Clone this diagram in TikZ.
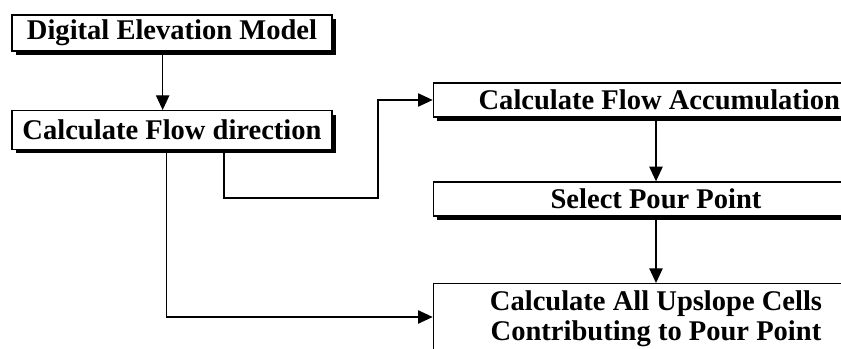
\documentclass[tikz,border=0pt]{standalone}
\usepackage{fontspec}
\setmainfont{Liberation Serif}
\usepackage{tikz}
\usetikzlibrary{arrows.meta,shadows}

\tikzset{
  stepbox/.style={draw, line width=1pt, fill=white, inner sep=0pt,
    font=\fontsize{21.4}{22.5}\selectfont\bfseries,
    drop shadow={shadow xshift=3pt, shadow yshift=-3pt, fill=black, opacity=1}},
  flow/.style={line width=1pt, -{Triangle[length=11pt,width=10pt]}}
}

\begin{document}
\begin{tikzpicture}[x=0.75pt,y=0.75pt,yscale=-1,xscale=1]
\useasboundingbox (0,0) rectangle (841,349);

%Shape: Rectangle [id:dem] 
\node [stepbox, minimum width=240pt, minimum height=27pt] (dem) at (172,33) {Digital Elevation Model};
%Shape: Rectangle [id:fdir] 
\node [stepbox, minimum width=240pt, minimum height=29pt] (fdir) at (172,130) {Calculate Flow direction};
%Shape: Rectangle [id:acc] 
\node [stepbox, minimum width=334pt, minimum height=25.5pt] (acc) at (656,100) {\hspace*{5pt}Calculate Flow Accumulation};
%Shape: Rectangle [id:pour] 
\node [stepbox, minimum width=334pt, minimum height=25.5pt] (pour) at (656,199) {Select Pour Point};
%Shape: Rectangle [id:upslope] 
\node [stepbox, anchor=north, minimum width=334pt, align=center, inner ysep=5pt,
  text depth=40pt] (upslope) at (656,283)
  {Calculate All Upslope Cells\\Contributing to Pour Point};

\coordinate (bend) at (378,198);

%Straight Lines [id:dem-fdir] 
\draw [flow] ([xshift=-7pt]dem.south) -- ([xshift=-7pt]fdir.north);
%Shape: Polyline [id:fdir-acc] 
\draw [flow] ([xshift=39pt]fdir.south) |- (bend) |- (acc.west);
%Shape: Polyline [id:fdir-upslope] 
\draw [flow] ([xshift=-4pt]fdir.south) |- ([yshift=25.5pt]upslope.north west);
%Straight Lines [id:acc-pour] 
\draw [flow] (acc.south) -- (pour.north);
%Straight Lines [id:pour-upslope] 
\draw [flow] (pour.south) -- (upslope.north);
\end{tikzpicture}
\end{document}
